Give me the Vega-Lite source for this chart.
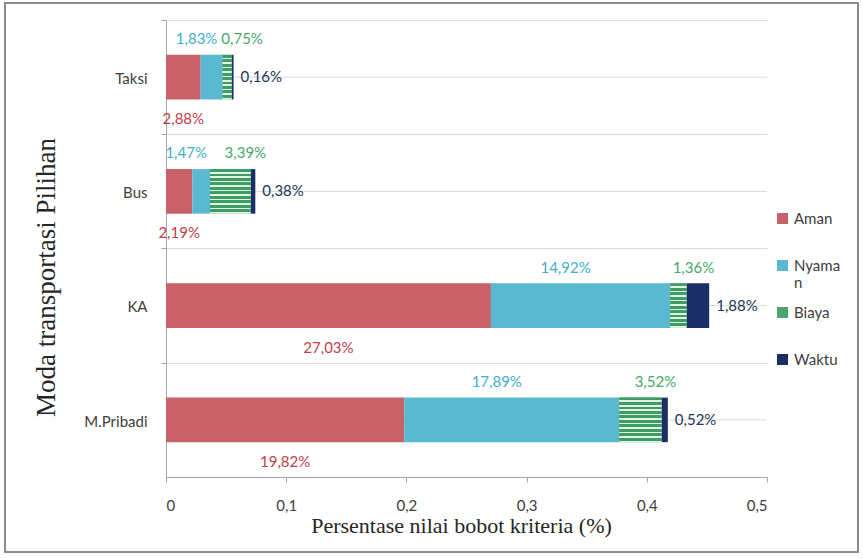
{
  "$schema": "https://vega.github.io/schema/vega-lite/v6.json",
  "width": 853,
  "height": 549,
  "autosize": {"type": "none"},
  "padding": {"left": 5, "top": 3, "right": 5, "bottom": 6},
  "background": "white",
  "config": {
    "view": {"stroke": "#8c8c8c", "strokeWidth": 2},
    "font": "Lato"
  },
  "data": {
    "values": [
      {"moda": "Taksi", "kriteria": "Aman", "nilai": 0.0288},
      {"moda": "Taksi", "kriteria": "Nyaman", "nilai": 0.0183},
      {"moda": "Taksi", "kriteria": "Biaya", "nilai": 0.0075},
      {"moda": "Taksi", "kriteria": "Waktu", "nilai": 0.0016},
      {"moda": "Bus", "kriteria": "Aman", "nilai": 0.0219},
      {"moda": "Bus", "kriteria": "Nyaman", "nilai": 0.0147},
      {"moda": "Bus", "kriteria": "Biaya", "nilai": 0.0339},
      {"moda": "Bus", "kriteria": "Waktu", "nilai": 0.0038},
      {"moda": "KA", "kriteria": "Aman", "nilai": 0.2703},
      {"moda": "KA", "kriteria": "Nyaman", "nilai": 0.1492},
      {"moda": "KA", "kriteria": "Biaya", "nilai": 0.0136},
      {"moda": "KA", "kriteria": "Waktu", "nilai": 0.0188},
      {"moda": "M.Pribadi", "kriteria": "Aman", "nilai": 0.1982},
      {"moda": "M.Pribadi", "kriteria": "Nyaman", "nilai": 0.1789},
      {"moda": "M.Pribadi", "kriteria": "Biaya", "nilai": 0.0352},
      {"moda": "M.Pribadi", "kriteria": "Waktu", "nilai": 0.0052}
    ]
  },
  "transform": [
    {"calculate": "indexof(['Aman','Nyaman','Biaya','Waktu'], datum.kriteria)", "as": "urut"},
    {"stack": "nilai", "groupby": ["moda"], "sort": [{"field": "urut", "order": "ascending"}], "as": ["x0", "x1"]},
    {"calculate": "(datum.x0 + datum.x1) / 2", "as": "xm"},
    {"calculate": "replace(format(datum.nilai * 100, '.2f'), '.', ',') + '%'", "as": "label"}
  ],
  "encoding": {
    "y": {
      "field": "moda",
      "type": "nominal",
      "scale": {
        "type": "band",
        "domain": ["Taksi", "Bus", "KA", "M.Pribadi"],
        "range": [17, 474],
        "paddingInner": 0.61,
        "paddingOuter": 0.305
      },
      "axis": {
        "orient": "left",
        "offset": -161,
        "bandPosition": 0,
        "tickOffset": -34.85,
        "labelOffset": 36,
        "grid": true,
        "gridColor": "#d9d9d9",
        "domainColor": "#a6a6a6",
        "tickColor": "#a6a6a6",
        "tickSize": 5,
        "labelFont": "Lato",
        "labelFontSize": 15,
        "labelColor": "#404040",
        "labelPadding": 14,
        "title": "Moda transportasi  Pilihan",
        "titleFont": "Liberation Serif",
        "titleFontSize": 27,
        "titleFontWeight": "normal",
        "titleColor": "#262626",
        "titleX": -120,
        "titleY": 274,
        "titleAlign": "center",
        "titleBaseline": "middle",
        "titleAngle": -90
      }
    }
  },
  "layer": [
    {
      "transform": [{"filter": "datum.kriteria == 'Aman'"}],
      "mark": {"type": "rule", "color": "#d9d9d9", "strokeWidth": 1},
      "encoding": {
        "x": {"datum": 0, "type": "quantitative"},
        "x2": {"datum": 0.5}
      }
    },
    {
      "mark": {"type": "bar"},
      "encoding": {
        "x": {
          "field": "x0",
          "type": "quantitative",
          "scale": {"domain": [0, 0.5], "range": [161, 762], "nice": false, "zero": false},
          "axis": {
            "offset": -75,
            "grid": false,
            "values": [0, 0.1, 0.2, 0.3, 0.4, 0.5],
            "labelExpr": "replace(format(datum.value, '.1~f'), '.', ',')",
            "domainColor": "#a6a6a6",
            "tickColor": "#a6a6a6",
            "tickSize": 5,
            "labelFont": "Lato",
            "labelFontSize": 15,
            "labelColor": "#404040",
            "labelPadding": 16,
            "title": "Persentase nilai bobot kriteria (%)",
            "titleFont": "Liberation Serif",
            "titleFontSize": 22,
            "titleFontWeight": "normal",
            "titleColor": "#262626",
            "titleX": 456,
            "titleY": 48,
            "titleAlign": "center",
            "titleBaseline": "middle"
          }
        },
        "x2": {"field": "x1"},
        "color": {
          "field": "kriteria",
          "type": "nominal",
          "scale": {
            "domain": ["Aman", "Nyaman", "Biaya", "Waktu"],
            "range": ["#c8616a", "#5ab9d0", "#4aa56e", "#1b2f66"]
          },
          "legend": {
            "title": null,
            "orient": "none",
            "legendX": 770,
            "legendY": 208,
            "gridAlign": "all",
            "symbolType": "square",
            "symbolSize": 121,
            "symbolStrokeWidth": 0,
            "labelFont": "Lato",
            "labelFontSize": 15,
            "labelColor": "#404040",
            "rowPadding": 14,
            "labelExpr": "datum.label == 'Nyaman' ? ['Nyama', 'n'] : datum.label"
          }
        }
      }
    },
    {
      "transform": [{"filter": "datum.kriteria == 'Biaya'"}],
      "mark": {
        "type": "bar",
        "color": {
          "gradient": "linear",
          "x1": 0, "y1": 0, "x2": 0, "y2": 1,
          "stops": [
            {"offset": 0, "color": "#3e9d63"}, {"offset": 0.065, "color": "#3e9d63"},
            {"offset": 0.065, "color": "#e2f4e8"}, {"offset": 0.1, "color": "#e2f4e8"},
            {"offset": 0.1, "color": "#3e9d63"}, {"offset": 0.165, "color": "#3e9d63"},
            {"offset": 0.165, "color": "#e2f4e8"}, {"offset": 0.2, "color": "#e2f4e8"},
            {"offset": 0.2, "color": "#3e9d63"}, {"offset": 0.265, "color": "#3e9d63"},
            {"offset": 0.265, "color": "#e2f4e8"}, {"offset": 0.3, "color": "#e2f4e8"},
            {"offset": 0.3, "color": "#3e9d63"}, {"offset": 0.365, "color": "#3e9d63"},
            {"offset": 0.365, "color": "#e2f4e8"}, {"offset": 0.4, "color": "#e2f4e8"},
            {"offset": 0.4, "color": "#3e9d63"}, {"offset": 0.465, "color": "#3e9d63"},
            {"offset": 0.465, "color": "#e2f4e8"}, {"offset": 0.5, "color": "#e2f4e8"},
            {"offset": 0.5, "color": "#3e9d63"}, {"offset": 0.565, "color": "#3e9d63"},
            {"offset": 0.565, "color": "#e2f4e8"}, {"offset": 0.6, "color": "#e2f4e8"},
            {"offset": 0.6, "color": "#3e9d63"}, {"offset": 0.665, "color": "#3e9d63"},
            {"offset": 0.665, "color": "#e2f4e8"}, {"offset": 0.7, "color": "#e2f4e8"},
            {"offset": 0.7, "color": "#3e9d63"}, {"offset": 0.765, "color": "#3e9d63"},
            {"offset": 0.765, "color": "#e2f4e8"}, {"offset": 0.8, "color": "#e2f4e8"},
            {"offset": 0.8, "color": "#3e9d63"}, {"offset": 0.865, "color": "#3e9d63"},
            {"offset": 0.865, "color": "#e2f4e8"}, {"offset": 0.9, "color": "#e2f4e8"},
            {"offset": 0.9, "color": "#3e9d63"}, {"offset": 0.965, "color": "#3e9d63"},
            {"offset": 0.965, "color": "#e2f4e8"}, {"offset": 1, "color": "#e2f4e8"}
          ]
        }
      },
      "encoding": {
        "x": {"field": "x0", "type": "quantitative"},
        "x2": {"field": "x1"}
      }
    },
    {
      "transform": [{"filter": "datum.kriteria == 'Aman'"}],
      "mark": {"type": "text", "font": "Lato", "fontSize": 15, "color": "#c0404d", "dy": 42, "baseline": "middle"},
      "encoding": {
        "x": {"field": "xm", "type": "quantitative"},
        "text": {"field": "label"}
      }
    },
    {
      "transform": [{"filter": "datum.kriteria == 'Nyaman'"}],
      "mark": {"type": "text", "font": "Lato", "fontSize": 15, "color": "#3fb0c8", "dy": -38, "dx": -15, "baseline": "middle"},
      "encoding": {
        "x": {"field": "xm", "type": "quantitative"},
        "text": {"field": "label"}
      }
    },
    {
      "transform": [{"filter": "datum.kriteria == 'Biaya'"}],
      "mark": {"type": "text", "font": "Lato", "fontSize": 15, "color": "#47a86c", "dy": -38, "dx": 15, "baseline": "middle"},
      "encoding": {
        "x": {"field": "xm", "type": "quantitative"},
        "text": {"field": "label"}
      }
    },
    {
      "transform": [{"filter": "datum.kriteria == 'Waktu'"}],
      "mark": {"type": "text", "font": "Lato", "fontSize": 15, "color": "#243456", "dx": 7, "align": "left", "baseline": "middle"},
      "encoding": {
        "x": {"field": "x1", "type": "quantitative"},
        "text": {"field": "label"}
      }
    }
  ]
}
